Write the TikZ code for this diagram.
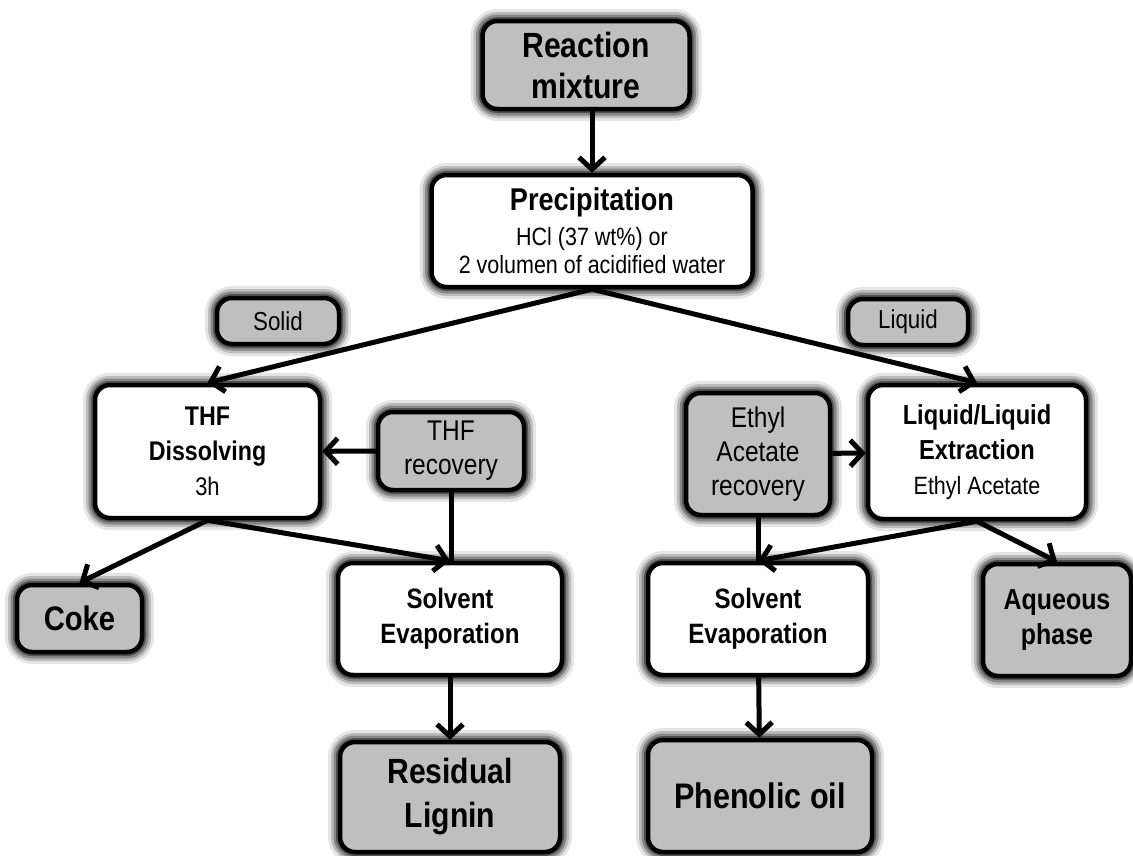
\documentclass[tikz,border=0pt]{standalone}
\usepackage{fontspec}
\setmainfont{Liberation Sans}[FakeStretch=0.86]
\usetikzlibrary{arrows.meta}
\definecolor{boxgray}{RGB}{191,191,191}
\tikzset{
 glow/.style={preaction={draw=black,opacity=0.10,line width=24pt},
              preaction={draw=black,opacity=0.18,line width=18pt},
              preaction={draw=black,opacity=0.28,line width=13pt},
              preaction={draw=black,opacity=0.40,line width=8pt}},
 box/.style={draw=black,line width=4.5pt,rounded corners=15pt,align=center,inner sep=0pt,glow},
 graybox/.style={box,fill=boxgray},
 whitebox/.style={box,fill=white},
 arr/.style={line width=5pt,-{Straight Barb[length=12pt,width=26pt,line width=5pt]}},
 ln/.style={line width=5pt},
}
\begin{document}
\begin{tikzpicture}[x=1pt,y=-1pt]
\useasboundingbox (0,0) rectangle (1133,855);
\node[graybox,minimum width=207pt,minimum height=88pt,font=\bfseries\fontsize{35}{41}\selectfont] (react) at (586,65) {Reaction\\mixture};
\node[whitebox,minimum width=321pt,minimum height=112pt,font=\fontsize{25}{28.5}\selectfont] (precip) at (592,231) {{\bfseries\fontsize{31.5}{36}\selectfont Precipitation}\\[6pt]HCl (37 wt\%) or\\2 volumen of acidified water};
\node[graybox,minimum width=122pt,minimum height=46pt,font=\fontsize{26}{30}\selectfont] (solid) at (278,321) {Solid};
\node[graybox,minimum width=120pt,minimum height=46pt,font=\fontsize{26}{30}\selectfont] (liquid) at (908,322) {Liquid};
\node[whitebox,minimum width=225pt,minimum height=133pt,font=\bfseries\fontsize{27}{35}\selectfont] (thfd) at (207.5,451.5) {THF\\Dissolving\\{\mdseries\fontsize{25.5}{28}\selectfont 3h}};
\node[graybox,minimum width=146pt,minimum height=78pt,font=\fontsize{28.5}{34}\selectfont] (threc) at (451,451) {THF\\recovery};
\node[graybox,minimum width=125pt,minimum height=67pt,font=\bfseries\fontsize{34}{40}\selectfont] (coke) at (79.5,618.5) {Coke};
\node[whitebox,minimum width=224pt,minimum height=112pt,font=\bfseries\fontsize{28}{35}\selectfont] (sevl) at (450,619) {Solvent\\Evaporation};
\node[graybox,minimum width=220pt,minimum height=110pt,font=\bfseries\fontsize{35}{44}\selectfont] (lignin) at (450,797) {Residual\\Lignin};
\node[graybox,minimum width=144pt,minimum height=122pt,font=\fontsize{28.5}{34}\selectfont] (ethrec) at (758,454) {Ethyl\\Acetate\\recovery};
\node[whitebox,minimum width=218pt,minimum height=134pt,font=\bfseries\fontsize{27.5}{35}\selectfont] (lle) at (977,452) {Liquid/Liquid\\Extraction\\{\mdseries\fontsize{25}{28}\selectfont Ethyl Acetate}};
\node[whitebox,minimum width=220pt,minimum height=112pt,font=\bfseries\fontsize{28}{35}\selectfont] (sevr) at (758,619) {Solvent\\Evaporation};
\node[graybox,minimum width=148pt,minimum height=112pt,font=\bfseries\fontsize{29}{35}\selectfont] (aq) at (1057,620) {Aqueous\\phase};
\node[graybox,minimum width=224pt,minimum height=112pt,font=\bfseries\fontsize{35.5}{42}\selectfont] (phen) at (760,796) {Phenolic oil};

\draw[arr] (react.south -| precip.north) -- (precip.north);
\draw[arr] (precip.south) -- (thfd.north);
\draw[arr] (precip.south) -- (lle.north);
\draw[arr] (threc) -- (thfd);
\draw[arr] (thfd.south) -- (coke.north);
\draw[arr] (thfd.south) -- (sevl.north);
\draw[ln] (threc.south) -- (threc.south |- sevl.north);
\draw[arr] (ethrec) -- (lle);
\draw[arr] (lle.south) -- (sevr.north);
\draw[arr] (lle.south) -- (aq.north);
\draw[ln] (ethrec.south) -- (ethrec.south |- sevr.north);
\draw[arr] (sevl) -- (lignin);
\draw[arr] (sevr) -- (phen);
\end{tikzpicture}
\end{document}
